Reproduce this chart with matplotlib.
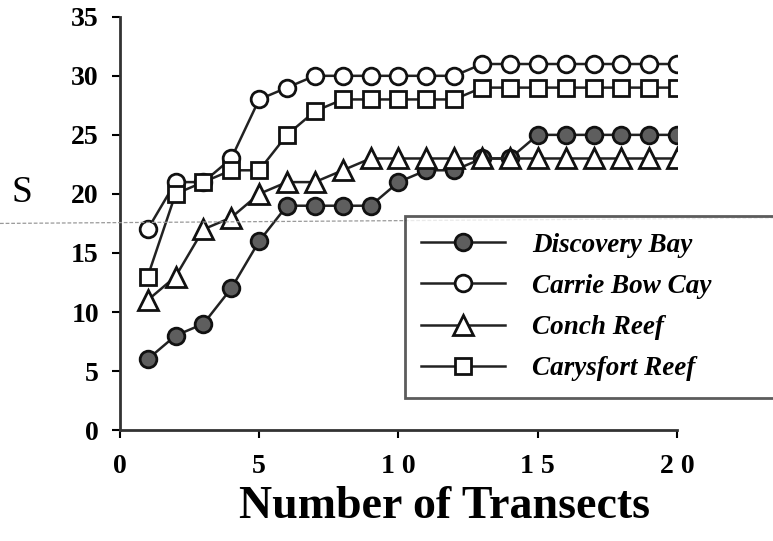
import matplotlib.pyplot as plt
from matplotlib.lines import Line2D

# species accumulation data
transects = list(range(1, 21))
discovery_bay = [6, 8, 9, 12, 16, 19, 19, 19, 19, 21, 22, 22, 23, 23, 25, 25, 25, 25, 25, 25]
carrie_bow = [17, 21, 21, 23, 28, 29, 30, 30, 30, 30, 30, 30, 31, 31, 31, 31, 31, 31, 31, 31]
conch_reef = [11, 13, 17, 18, 20, 21, 21, 22, 23, 23, 23, 23, 23, 23, 23, 23, 23, 23, 23, 23]
carysfort = [13, 20, 21, 22, 22, 25, 27, 28, 28, 28, 28, 28, 29, 29, 29, 29, 29, 29, 29, 29]
labels = ['Discovery Bay', 'Carrie Bow Cay', 'Conch Reef', 'Carysfort Reef']

plt.rcParams['font.family'] = ['Liberation Serif', 'DejaVu Serif']

fig = plt.figure(figsize=(7.73, 5.41), dpi=100)
ax = fig.add_axes([0.155, 0.205, 0.721, 0.764])

styles = [
    dict(marker='o', mfc='#5e5e5e', ms=12),
    dict(marker='o', mfc='white', ms=12),
    dict(marker='^', mfc='white', ms=14),
    dict(marker='s', mfc='white', ms=11.5),
]
series = [discovery_bay, carrie_bow, conch_reef, carysfort]
for ys, st in zip(series, styles):
    ax.plot(transects, ys, color='#222222', lw=1.8, mec='#111111', mew=2, **st)

ax.set_xlim(0, 20)
ax.set_ylim(0, 35)
ax.set_xticks([0, 5, 10, 15, 20])
ax.set_yticks([0, 5, 10, 15, 20, 25, 30, 35])
ax.set_xticklabels(['0', '5', '1 0', '1 5', '2 0'])
for s in ['top', 'right']:
    ax.spines[s].set_visible(False)
for s in ['left', 'bottom']:
    ax.spines[s].set_linewidth(2)
    ax.spines[s].set_color('#333333')
ax.tick_params(direction='out', length=6, width=1.5, labelsize=20, pad=9)
ax.tick_params(axis='x', pad=11)
for t in ax.get_xticklabels() + ax.get_yticklabels():
    t.set_fontweight('bold')

fig.text(0.575, 0.063, 'Number of Transects', fontsize=33, fontweight='bold',
         ha='center', va='center')
fig.text(0.028, 0.643, 'S', fontsize=27, ha='center', va='center')

# faint scan line across the page
fig.add_artist(Line2D([0, 1], [0.587, 0.597], transform=fig.transFigure,
                      color='#999999', lw=0.9, ls=(0, (3, 1.5))))

handles = [Line2D([], [], color='#222222', lw=1.8, mec='#111111', mew=2, **st) for st in styles]
leg = fig.legend(handles, labels, loc='upper left', mode='expand',
                 bbox_to_anchor=(0.524, 0.25, 0.53, 0.35),
                 fancybox=False, frameon=True, handlelength=3.1, borderpad=0.6,
                 labelspacing=0.6, handletextpad=1.0, borderaxespad=0,
                 prop=dict(size=19.5, style='italic', weight='bold'))
leg.get_frame().set_edgecolor('#333333')
leg.get_frame().set_linewidth(2)

fig.savefig('out.png', dpi=100)
